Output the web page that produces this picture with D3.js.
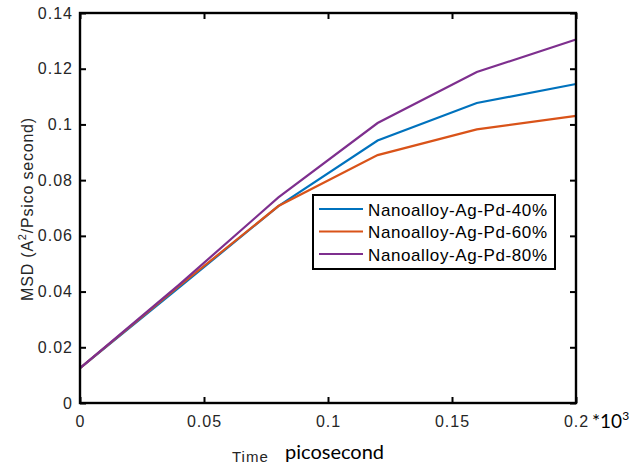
<!DOCTYPE html>
<html>
<head>
<meta charset="utf-8">
<script src="https://cdn.jsdelivr.net/npm/d3@7"></script>
<style>
  body { margin: 0; background: #fff; }
  text { font-family: "Liberation Sans", Arial, sans-serif; }
</style>
</head>
<body>
<svg id="chart" width="639" height="468"></svg>
<script>
// time in picoseconds (*10^3)
const times = [0, 0.04, 0.08, 0.12, 0.16, 0.2];
const msd40 = [0.0125, 0.0415, 0.0707, 0.0942, 0.1077, 0.1145];
const msd60 = [0.0125, 0.0420, 0.0707, 0.0890, 0.0982, 0.1031];
const msd80 = [0.0125, 0.0425, 0.0738, 0.1005, 0.1188, 0.1305];
const seriesNames = ["Nanoalloy-Ag-Pd-40%", "Nanoalloy-Ag-Pd-60%", "Nanoalloy-Ag-Pd-80%"];
const seriesColors = ["#0072BD", "#D95319", "#7E2F8E"];
const xTicks = [0, 0.05, 0.1, 0.15, 0.2];
const yTicks = [0, 0.02, 0.04, 0.06, 0.08, 0.1, 0.12, 0.14];

const svg = d3.select("#chart");
const margin = {left: 80, right: 63, top: 13, bottom: 65};
const width = +svg.attr("width"), height = +svg.attr("height");

const x = d3.scaleLinear().domain([0, 0.2]).range([margin.left, width - margin.right]);
const y = d3.scaleLinear().domain([0, 0.14]).range([height - margin.bottom, margin.top]);

const fmt = d => d === 0 ? "0" : String(+d.toFixed(2));

// axes, ticks pointing inward, MATLAB box style
function styleAxis(g) {
  g.select(".domain").remove();
  g.selectAll(".tick line").attr("stroke", "#000").attr("stroke-width", 2);
  g.selectAll(".tick text").attr("fill", "#262626")
    .style("font-size", "16px").style("letter-spacing", "1px");
}

svg.append("g")
  .attr("transform", `translate(0,${y(0)})`)
  .call(d3.axisBottom(x).tickValues(xTicks).tickFormat(fmt).tickSizeInner(-6).tickSizeOuter(0).tickPadding(13))
  .call(styleAxis);
svg.append("g")
  .attr("transform", `translate(0,${y(0.14)})`)
  .call(d3.axisTop(x).tickValues(xTicks).tickFormat("").tickSizeInner(-6).tickSizeOuter(0))
  .call(styleAxis);
svg.append("g")
  .attr("transform", `translate(${x(0)},0)`)
  .call(d3.axisLeft(y).tickValues(yTicks).tickFormat(fmt).tickSizeInner(-6).tickSizeOuter(0).tickPadding(7))
  .call(styleAxis);
svg.append("g")
  .attr("transform", `translate(${x(0.2)},0)`)
  .call(d3.axisRight(y).tickValues(yTicks).tickFormat("").tickSizeInner(-6).tickSizeOuter(0))
  .call(styleAxis);

// lines
const line = d3.line().x((d, i) => x(times[i])).y(d => y(d));
[msd40, msd60, msd80].forEach((s, i) => {
  svg.append("path")
    .attr("d", line(s))
    .attr("fill", "none")
    .attr("stroke", seriesColors[i])
    .attr("stroke-width", 2.2);
});

// plot box
svg.append("rect")
  .attr("x", x(0)).attr("y", y(0.14))
  .attr("width", x(0.2) - x(0)).attr("height", y(0) - y(0.14))
  .attr("fill", "none").attr("stroke", "#000").attr("stroke-width", 2.4);

// legend
const lg = svg.append("g").attr("transform", "translate(313,195)");
lg.append("rect").attr("width", 242).attr("height", 74)
  .attr("fill", "#fff").attr("stroke", "#000").attr("stroke-width", 2);
seriesNames.forEach((name, i) => {
  const yy = 14 + i * 22.5;
  lg.append("line").attr("x1", 6).attr("x2", 50).attr("y1", yy).attr("y2", yy)
    .attr("stroke", seriesColors[i]).attr("stroke-width", 2.2);
  lg.append("text").attr("x", 55).attr("y", yy + 6.5)
    .style("font-size", "17px").style("letter-spacing", "0.6px")
    .attr("fill", "#000").text(name);
});

// axis labels
svg.append("text")
  .attr("transform", "translate(33,209) rotate(-90)")
  .attr("text-anchor", "middle")
  .style("font-size", "16px").style("letter-spacing", "0.8px").attr("fill", "#262626")
  .html('MSD (A<tspan dy="-7" font-size="11px">2</tspan><tspan dy="7">/Psico second)</tspan>');

svg.append("text")
  .attr("x", 232).attr("y", 462)
  .style("font-size", "15px").style("letter-spacing", "1px").attr("fill", "#262626").text("Time");
svg.append("text")
  .attr("x", 285).attr("y", 459)
  .style("font-size", "20px").style("font-family", "Lato, sans-serif").attr("fill", "#000").text("picosecond");

svg.append("text")
  .attr("x", 592).attr("y", 428)
  .style("font-size", "19px").style("font-family", "Lato, sans-serif").attr("fill", "#000")
  .html('*10<tspan dy="-8" font-size="12px">3</tspan>');
</script>
</body>
</html>
